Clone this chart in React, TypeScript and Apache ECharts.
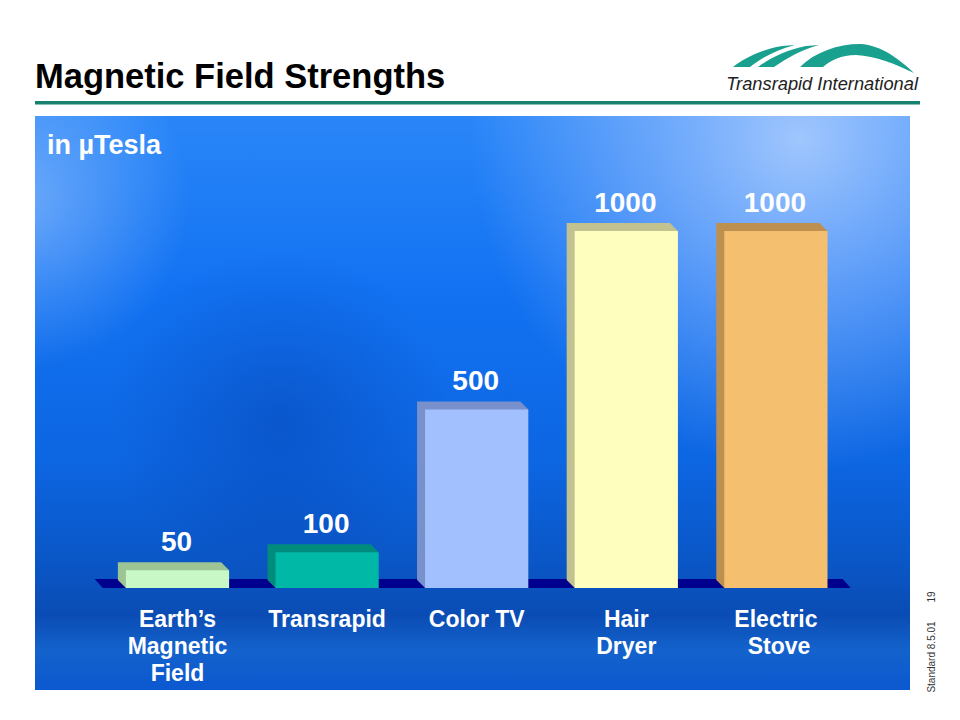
import React, { useEffect, useRef } from "react";
import * as echarts from "echarts";

const categories = ["Earth\u2019s\nMagnetic\nField", "Transrapid", "Color TV", "Hair\nDryer", "Electric\n Stove"];
const values = [50, 100, 500, 1000, 1000];
const frontColors = ["#c8f8c6", "#00b8a6", "#a2c0fe", "#fefebe", "#f4c070"];
const sideColors = ["#9cc494", "#008c7c", "#7890cc", "#c2c290", "#be9050"];
const titleText = "Magnetic Field Strengths";
const unitText = "in \u00b5Tesla";
const logoText = "Transrapid International";
const footerText = "Standard 8.5.01";
const pageNumber = "19";

const FONT = "'Liberation Sans', Arial, Helvetica, sans-serif";

echarts.graphic.registerShape(
  "swoosh1",
  echarts.graphic.extendPath("M733,67 C745,58 760,50 782,46 L795,45 C776,50 761,58 750,67 Z", {})
);
echarts.graphic.registerShape(
  "swoosh2",
  echarts.graphic.extendPath("M758,67 C770,58 786,50 806,46 L819,45 C801,50 787,58 774,67 Z", {})
);
echarts.graphic.registerShape(
  "swoosh3",
  echarts.graphic.extendPath(
    "M800,67 C815,52 838,44 860,44 C882,45 900,60 914,73 C895,64 876,56 856,55 C841,55 831,60 823,67 Z",
    {}
  )
);

export default function App() {
  const ref = useRef<HTMLDivElement>(null);
  useEffect(() => {
    if (!ref.current) return;
    const chart = echarts.init(ref.current, undefined, { renderer: "svg" });
    const depth = 8;
    const option: any = {
      animation: false,
      backgroundColor: "#ffffff",
      grid: { left: 102.7, right: 109.3, top: 231, bottom: 132, containLabel: false },
      xAxis: {
        type: "category",
        data: categories,
        axisLine: { show: false },
        axisTick: { show: false },
        splitLine: { show: false },
        axisLabel: {
          color: "#ffffff",
          fontFamily: FONT,
          fontWeight: "bold",
          fontSize: 23,
          lineHeight: 27,
          margin: 17,
          interval: 0,
          align: "center",
        },
      },
      yAxis: { type: "value", min: 0, max: 1000, show: false, splitLine: { show: false } },
      graphic: [
        {
          type: "rect",
          z: 0,
          shape: { x: 35, y: 116, width: 875, height: 574 },
          style: {
            fill: new echarts.graphic.LinearGradient(0, 0, 0, 1, [
              { offset: 0, color: "#2a86f8" },
              { offset: 0.3, color: "#1272f2" },
              { offset: 0.6, color: "#0d66e2" },
              { offset: 0.78, color: "#0a56c6" },
              { offset: 0.87, color: "#0a4cb4" },
              { offset: 0.93, color: "#1462cc" },
              { offset: 1, color: "#0b58d0" },
            ]),
          },
        },
        {
          type: "rect",
          z: 0,
          shape: { x: 35, y: 116, width: 875, height: 574 },
          style: {
            fill: new echarts.graphic.RadialGradient(
              800,
              140,
              330,
              [
                { offset: 0, color: "rgba(190,215,255,0.8)" },
                { offset: 0.5, color: "rgba(170,200,255,0.45)" },
                { offset: 1, color: "rgba(170,200,255,0)" },
              ],
              true
            ),
          },
        },
        {
          type: "rect",
          z: 0,
          shape: { x: 35, y: 116, width: 875, height: 574 },
          style: {
            fill: new echarts.graphic.RadialGradient(
              20,
              200,
              170,
              [
                { offset: 0, color: "rgba(170,205,255,0.55)" },
                { offset: 1, color: "rgba(170,205,255,0)" },
              ],
              true
            ),
          },
        },
        {
          type: "rect",
          z: 0,
          shape: { x: 35, y: 116, width: 875, height: 574 },
          style: {
            fill: new echarts.graphic.RadialGradient(
              280,
              420,
              170,
              [
                { offset: 0, color: "rgba(0,40,140,0.28)" },
                { offset: 1, color: "rgba(0,40,140,0)" },
              ],
              true
            ),
          },
        },
        {
          type: "text",
          z: 5,
          x: 35,
          y: 93,
          style: {
            text: titleText,
            fill: "#000000",
            font: `bold 34.5px ${FONT}`,
            verticalAlign: "bottom",
          },
        },
        {
          type: "rect",
          z: 5,
          shape: { x: 35, y: 101, width: 885, height: 3.5 },
          style: { fill: "#17806e" },
        },
        { type: "swoosh1", z: 5, style: { fill: "#1aa08e" } },
        { type: "swoosh2", z: 5, style: { fill: "#1aa08e" } },
        { type: "swoosh3", z: 5, style: { fill: "#1aa08e" } },
        {
          type: "text",
          z: 5,
          x: 918,
          y: 92,
          style: {
            text: logoText,
            fill: "#222222",
            font: `italic 18.3px ${FONT}`,
            align: "right",
            verticalAlign: "bottom",
          },
        },
        {
          type: "text",
          z: 5,
          x: 47,
          y: 145,
          style: {
            text: unitText,
            fill: "#ffffff",
            font: `bold 27px ${FONT}`,
            verticalAlign: "middle",
          },
        },
        {
          type: "text",
          z: 5,
          x: 931,
          y: 657,
          rotation: Math.PI / 2,
          style: {
            text: footerText,
            fill: "#333333",
            font: `10px ${FONT}`,
            align: "center",
            verticalAlign: "middle",
          },
        },
        {
          type: "text",
          z: 5,
          x: 931,
          y: 597,
          rotation: Math.PI / 2,
          style: {
            text: pageNumber,
            fill: "#333333",
            font: `10px ${FONT}`,
            align: "center",
            verticalAlign: "middle",
          },
        },
      ],
      series: [
        {
          type: "custom",
          z: 1,
          clip: false,
          data: [[0, 0]],
          renderItem: (params: any, api: any) => {
            const cs = params.coordSys;
            const yb = cs.y + cs.height;
            const x0 = cs.x;
            const x1 = cs.x + cs.width;
            return {
              type: "polygon",
              shape: {
                points: [
                  [x0 - depth, yb - 9],
                  [x1 - depth, yb - 9],
                  [x1, yb],
                  [x0, yb],
                ],
              },
              style: { fill: "#00008e" },
            };
          },
        },
        {
          type: "custom",
          z: 3,
          clip: false,
          data: values.map((v, i) => [i, v]),
          renderItem: (params: any, api: any) => {
            const idx = api.value(0);
            const v = api.value(1);
            const top = api.coord([idx, v]);
            const base = api.coord([idx, 0]);
            const bw = api.size([1, 0])[0] * 0.69;
            const x0 = top[0] - bw / 2;
            const x1 = top[0] + bw / 2;
            const yt = top[1];
            const yb = base[1];
            return {
              type: "group",
              children: [
                {
                  type: "polygon",
                  shape: {
                    points: [
                      [x0 - depth, yt - depth],
                      [x1 - depth, yt - depth],
                      [x1, yt],
                      [x0, yb],
                      [x0 - depth, yb - depth],
                    ],
                  },
                  style: { fill: sideColors[idx] },
                },
                {
                  type: "rect",
                  shape: { x: x0, y: yt, width: x1 - x0, height: yb - yt },
                  style: { fill: frontColors[idx] },
                },
                {
                  type: "text",
                  x: top[0] - 1,
                  y: yt - 29,
                  style: {
                    text: String(v),
                    fill: "#ffffff",
                    font: `bold 28px ${FONT}`,
                    align: "center",
                    verticalAlign: "middle",
                  },
                },
              ],
            };
          },
        },
      ],
    };
    chart.setOption(option);
    return () => chart.dispose();
  }, []);
  return (
    <div
      ref={ref}
      style={{ position: "fixed", left: 0, top: 0, width: 960, height: 720 }}
    />
  );
}
